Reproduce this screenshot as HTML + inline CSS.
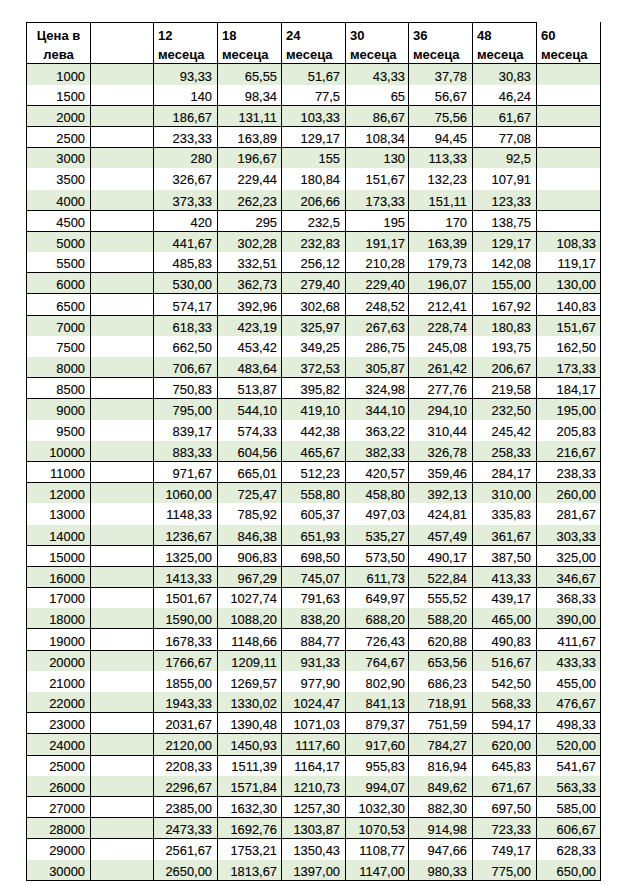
<!DOCTYPE html>
<html><head><meta charset="utf-8"><style>
html,body{margin:0;padding:0;background:#fff;width:635px;height:884px;overflow:hidden}
body{position:relative;font-family:"Liberation Sans",sans-serif;color:#000}
.g{position:absolute;background:#e2eeda}
.h{position:absolute;height:1px;background:#000}
.v{position:absolute;width:1px;background:#000}
.n{position:absolute;font-size:13.5px;line-height:20px;white-space:nowrap;text-align:right;transform:scaleX(0.955);transform-origin:100% 50%;-webkit-text-stroke:0.12px #000}
.b{position:absolute;font-size:13px;font-weight:bold;-webkit-text-stroke:0px #000;line-height:20px;white-space:nowrap}
</style></head><body>

<div class="g" style="left:27px;top:64px;width:573px;height:21px"></div>
<div class="g" style="left:27px;top:106px;width:573px;height:20px"></div>
<div class="g" style="left:27px;top:148px;width:573px;height:20px"></div>
<div class="g" style="left:27px;top:190px;width:573px;height:20px"></div>
<div class="g" style="left:27px;top:232px;width:573px;height:20px"></div>
<div class="g" style="left:27px;top:273px;width:573px;height:20px"></div>
<div class="g" style="left:27px;top:316px;width:573px;height:20px"></div>
<div class="g" style="left:27px;top:357px;width:573px;height:20px"></div>
<div class="g" style="left:27px;top:399px;width:573px;height:21px"></div>
<div class="g" style="left:27px;top:441px;width:573px;height:20px"></div>
<div class="g" style="left:27px;top:483px;width:573px;height:20px"></div>
<div class="g" style="left:27px;top:525px;width:573px;height:20px"></div>
<div class="g" style="left:27px;top:567px;width:573px;height:20px"></div>
<div class="g" style="left:27px;top:608px;width:573px;height:20px"></div>
<div class="g" style="left:27px;top:651px;width:573px;height:20px"></div>
<div class="g" style="left:27px;top:692px;width:573px;height:20px"></div>
<div class="g" style="left:27px;top:734px;width:573px;height:21px"></div>
<div class="g" style="left:27px;top:776px;width:573px;height:20px"></div>
<div class="g" style="left:27px;top:818px;width:573px;height:20px"></div>
<div class="g" style="left:27px;top:860px;width:573px;height:20px"></div>
<div class="h" style="left:26px;top:22px;width:511px"></div>
<div class="h" style="left:26px;top:63px;width:575px"></div>
<div class="h" style="left:26px;top:105px;width:575px"></div>
<div class="h" style="left:26px;top:126px;width:575px"></div>
<div class="h" style="left:26px;top:147px;width:575px"></div>
<div class="h" style="left:26px;top:210px;width:575px"></div>
<div class="h" style="left:26px;top:231px;width:575px"></div>
<div class="h" style="left:26px;top:272px;width:575px"></div>
<div class="h" style="left:26px;top:293px;width:575px"></div>
<div class="h" style="left:26px;top:315px;width:575px"></div>
<div class="h" style="left:26px;top:377px;width:575px"></div>
<div class="h" style="left:26px;top:398px;width:575px"></div>
<div class="h" style="left:26px;top:461px;width:575px"></div>
<div class="h" style="left:26px;top:482px;width:575px"></div>
<div class="h" style="left:26px;top:545px;width:575px"></div>
<div class="h" style="left:26px;top:566px;width:575px"></div>
<div class="h" style="left:26px;top:587px;width:575px"></div>
<div class="h" style="left:26px;top:628px;width:575px"></div>
<div class="h" style="left:26px;top:650px;width:575px"></div>
<div class="h" style="left:26px;top:712px;width:575px"></div>
<div class="h" style="left:26px;top:733px;width:575px"></div>
<div class="h" style="left:26px;top:755px;width:575px"></div>
<div class="h" style="left:26px;top:796px;width:575px"></div>
<div class="h" style="left:26px;top:817px;width:575px"></div>
<div class="h" style="left:26px;top:838px;width:575px"></div>
<div class="h" style="left:26px;top:880px;width:575px"></div>
<div class="v" style="left:26px;top:22px;height:859px"></div>
<div class="v" style="left:90px;top:22px;height:859px"></div>
<div class="v" style="left:153px;top:22px;height:859px"></div>
<div class="v" style="left:217px;top:22px;height:859px"></div>
<div class="v" style="left:281px;top:22px;height:859px"></div>
<div class="v" style="left:345px;top:22px;height:859px"></div>
<div class="v" style="left:408px;top:22px;height:859px"></div>
<div class="v" style="left:472px;top:22px;height:859px"></div>
<div class="v" style="left:536px;top:22px;height:859px"></div>
<div class="v" style="left:600px;top:22px;height:859px"></div>
<div class="b" style="left:27px;top:25.5px;width:63px;text-align:center">Цена в</div>
<div class="b" style="left:27px;top:44.5px;width:63px;text-align:center">лева</div>
<div class="b" style="left:158px;top:25.5px">12</div>
<div class="b" style="left:158px;top:44.5px">месеца</div>
<div class="b" style="left:222px;top:25.5px">18</div>
<div class="b" style="left:222px;top:44.5px">месеца</div>
<div class="b" style="left:286px;top:25.5px">24</div>
<div class="b" style="left:286px;top:44.5px">месеца</div>
<div class="b" style="left:350px;top:25.5px">30</div>
<div class="b" style="left:350px;top:44.5px">месеца</div>
<div class="b" style="left:413px;top:25.5px">36</div>
<div class="b" style="left:413px;top:44.5px">месеца</div>
<div class="b" style="left:477px;top:25.5px">48</div>
<div class="b" style="left:477px;top:44.5px">месеца</div>
<div class="b" style="left:541px;top:25.5px">60</div>
<div class="b" style="left:541px;top:44.5px">месеца</div>
<div class="n" style="left:5.400000000000006px;top:66.65px;width:80px">1000</div>
<div class="n" style="left:132.4px;top:66.65px;width:80px">93,33</div>
<div class="n" style="left:197.39999999999998px;top:66.65px;width:80px">65,55</div>
<div class="n" style="left:260.4px;top:66.65px;width:80px">51,67</div>
<div class="n" style="left:325.4px;top:66.65px;width:80px">43,33</div>
<div class="n" style="left:387.4px;top:66.65px;width:80px">37,78</div>
<div class="n" style="left:451.4px;top:66.65px;width:80px">30,83</div>
<div class="n" style="left:5.400000000000006px;top:86.60px;width:80px">1500</div>
<div class="n" style="left:132.4px;top:86.60px;width:80px">140</div>
<div class="n" style="left:197.39999999999998px;top:86.60px;width:80px">98,34</div>
<div class="n" style="left:260.4px;top:86.60px;width:80px">77,5</div>
<div class="n" style="left:325.4px;top:86.60px;width:80px">65</div>
<div class="n" style="left:387.4px;top:86.60px;width:80px">56,67</div>
<div class="n" style="left:451.4px;top:86.60px;width:80px">46,24</div>
<div class="n" style="left:5.400000000000006px;top:107.55px;width:80px">2000</div>
<div class="n" style="left:132.4px;top:107.55px;width:80px">186,67</div>
<div class="n" style="left:197.39999999999998px;top:107.55px;width:80px">131,11</div>
<div class="n" style="left:260.4px;top:107.55px;width:80px">103,33</div>
<div class="n" style="left:325.4px;top:107.55px;width:80px">86,67</div>
<div class="n" style="left:387.4px;top:107.55px;width:80px">75,56</div>
<div class="n" style="left:451.4px;top:107.55px;width:80px">61,67</div>
<div class="n" style="left:5.400000000000006px;top:128.50px;width:80px">2500</div>
<div class="n" style="left:132.4px;top:128.50px;width:80px">233,33</div>
<div class="n" style="left:197.39999999999998px;top:128.50px;width:80px">163,89</div>
<div class="n" style="left:260.4px;top:128.50px;width:80px">129,17</div>
<div class="n" style="left:325.4px;top:128.50px;width:80px">108,34</div>
<div class="n" style="left:387.4px;top:128.50px;width:80px">94,45</div>
<div class="n" style="left:451.4px;top:128.50px;width:80px">77,08</div>
<div class="n" style="left:5.400000000000006px;top:149.45px;width:80px">3000</div>
<div class="n" style="left:132.4px;top:149.45px;width:80px">280</div>
<div class="n" style="left:197.39999999999998px;top:149.45px;width:80px">196,67</div>
<div class="n" style="left:260.4px;top:149.45px;width:80px">155</div>
<div class="n" style="left:325.4px;top:149.45px;width:80px">130</div>
<div class="n" style="left:387.4px;top:149.45px;width:80px">113,33</div>
<div class="n" style="left:451.4px;top:149.45px;width:80px">92,5</div>
<div class="n" style="left:5.400000000000006px;top:170.40px;width:80px">3500</div>
<div class="n" style="left:132.4px;top:170.40px;width:80px">326,67</div>
<div class="n" style="left:197.39999999999998px;top:170.40px;width:80px">229,44</div>
<div class="n" style="left:260.4px;top:170.40px;width:80px">180,84</div>
<div class="n" style="left:325.4px;top:170.40px;width:80px">151,67</div>
<div class="n" style="left:387.4px;top:170.40px;width:80px">132,23</div>
<div class="n" style="left:451.4px;top:170.40px;width:80px">107,91</div>
<div class="n" style="left:5.400000000000006px;top:192.35px;width:80px">4000</div>
<div class="n" style="left:132.4px;top:192.35px;width:80px">373,33</div>
<div class="n" style="left:197.39999999999998px;top:192.35px;width:80px">262,23</div>
<div class="n" style="left:260.4px;top:192.35px;width:80px">206,66</div>
<div class="n" style="left:325.4px;top:192.35px;width:80px">173,33</div>
<div class="n" style="left:387.4px;top:192.35px;width:80px">151,11</div>
<div class="n" style="left:451.4px;top:192.35px;width:80px">123,33</div>
<div class="n" style="left:5.400000000000006px;top:213.30px;width:80px">4500</div>
<div class="n" style="left:132.4px;top:213.30px;width:80px">420</div>
<div class="n" style="left:197.39999999999998px;top:213.30px;width:80px">295</div>
<div class="n" style="left:260.4px;top:213.30px;width:80px">232,5</div>
<div class="n" style="left:325.4px;top:213.30px;width:80px">195</div>
<div class="n" style="left:387.4px;top:213.30px;width:80px">170</div>
<div class="n" style="left:451.4px;top:213.30px;width:80px">138,75</div>
<div class="n" style="left:5.400000000000006px;top:234.25px;width:80px">5000</div>
<div class="n" style="left:132.4px;top:234.25px;width:80px">441,67</div>
<div class="n" style="left:197.39999999999998px;top:234.25px;width:80px">302,28</div>
<div class="n" style="left:260.4px;top:234.25px;width:80px">232,83</div>
<div class="n" style="left:325.4px;top:234.25px;width:80px">191,17</div>
<div class="n" style="left:387.4px;top:234.25px;width:80px">163,39</div>
<div class="n" style="left:451.4px;top:234.25px;width:80px">129,17</div>
<div class="n" style="left:516.4px;top:234.25px;width:80px">108,33</div>
<div class="n" style="left:5.400000000000006px;top:254.20px;width:80px">5500</div>
<div class="n" style="left:132.4px;top:254.20px;width:80px">485,83</div>
<div class="n" style="left:197.39999999999998px;top:254.20px;width:80px">332,51</div>
<div class="n" style="left:260.4px;top:254.20px;width:80px">256,12</div>
<div class="n" style="left:325.4px;top:254.20px;width:80px">210,28</div>
<div class="n" style="left:387.4px;top:254.20px;width:80px">179,73</div>
<div class="n" style="left:451.4px;top:254.20px;width:80px">142,08</div>
<div class="n" style="left:516.4px;top:254.20px;width:80px">119,17</div>
<div class="n" style="left:5.400000000000006px;top:275.15px;width:80px">6000</div>
<div class="n" style="left:132.4px;top:275.15px;width:80px">530,00</div>
<div class="n" style="left:197.39999999999998px;top:275.15px;width:80px">362,73</div>
<div class="n" style="left:260.4px;top:275.15px;width:80px">279,40</div>
<div class="n" style="left:325.4px;top:275.15px;width:80px">229,40</div>
<div class="n" style="left:387.4px;top:275.15px;width:80px">196,07</div>
<div class="n" style="left:451.4px;top:275.15px;width:80px">155,00</div>
<div class="n" style="left:516.4px;top:275.15px;width:80px">130,00</div>
<div class="n" style="left:5.400000000000006px;top:297.10px;width:80px">6500</div>
<div class="n" style="left:132.4px;top:297.10px;width:80px">574,17</div>
<div class="n" style="left:197.39999999999998px;top:297.10px;width:80px">392,96</div>
<div class="n" style="left:260.4px;top:297.10px;width:80px">302,68</div>
<div class="n" style="left:325.4px;top:297.10px;width:80px">248,52</div>
<div class="n" style="left:387.4px;top:297.10px;width:80px">212,41</div>
<div class="n" style="left:451.4px;top:297.10px;width:80px">167,92</div>
<div class="n" style="left:516.4px;top:297.10px;width:80px">140,83</div>
<div class="n" style="left:5.400000000000006px;top:318.05px;width:80px">7000</div>
<div class="n" style="left:132.4px;top:318.05px;width:80px">618,33</div>
<div class="n" style="left:197.39999999999998px;top:318.05px;width:80px">423,19</div>
<div class="n" style="left:260.4px;top:318.05px;width:80px">325,97</div>
<div class="n" style="left:325.4px;top:318.05px;width:80px">267,63</div>
<div class="n" style="left:387.4px;top:318.05px;width:80px">228,74</div>
<div class="n" style="left:451.4px;top:318.05px;width:80px">180,83</div>
<div class="n" style="left:516.4px;top:318.05px;width:80px">151,67</div>
<div class="n" style="left:5.400000000000006px;top:338.00px;width:80px">7500</div>
<div class="n" style="left:132.4px;top:338.00px;width:80px">662,50</div>
<div class="n" style="left:197.39999999999998px;top:338.00px;width:80px">453,42</div>
<div class="n" style="left:260.4px;top:338.00px;width:80px">349,25</div>
<div class="n" style="left:325.4px;top:338.00px;width:80px">286,75</div>
<div class="n" style="left:387.4px;top:338.00px;width:80px">245,08</div>
<div class="n" style="left:451.4px;top:338.00px;width:80px">193,75</div>
<div class="n" style="left:516.4px;top:338.00px;width:80px">162,50</div>
<div class="n" style="left:5.400000000000006px;top:358.95px;width:80px">8000</div>
<div class="n" style="left:132.4px;top:358.95px;width:80px">706,67</div>
<div class="n" style="left:197.39999999999998px;top:358.95px;width:80px">483,64</div>
<div class="n" style="left:260.4px;top:358.95px;width:80px">372,53</div>
<div class="n" style="left:325.4px;top:358.95px;width:80px">305,87</div>
<div class="n" style="left:387.4px;top:358.95px;width:80px">261,42</div>
<div class="n" style="left:451.4px;top:358.95px;width:80px">206,67</div>
<div class="n" style="left:516.4px;top:358.95px;width:80px">173,33</div>
<div class="n" style="left:5.400000000000006px;top:379.90px;width:80px">8500</div>
<div class="n" style="left:132.4px;top:379.90px;width:80px">750,83</div>
<div class="n" style="left:197.39999999999998px;top:379.90px;width:80px">513,87</div>
<div class="n" style="left:260.4px;top:379.90px;width:80px">395,82</div>
<div class="n" style="left:325.4px;top:379.90px;width:80px">324,98</div>
<div class="n" style="left:387.4px;top:379.90px;width:80px">277,76</div>
<div class="n" style="left:451.4px;top:379.90px;width:80px">219,58</div>
<div class="n" style="left:516.4px;top:379.90px;width:80px">184,17</div>
<div class="n" style="left:5.400000000000006px;top:400.85px;width:80px">9000</div>
<div class="n" style="left:132.4px;top:400.85px;width:80px">795,00</div>
<div class="n" style="left:197.39999999999998px;top:400.85px;width:80px">544,10</div>
<div class="n" style="left:260.4px;top:400.85px;width:80px">419,10</div>
<div class="n" style="left:325.4px;top:400.85px;width:80px">344,10</div>
<div class="n" style="left:387.4px;top:400.85px;width:80px">294,10</div>
<div class="n" style="left:451.4px;top:400.85px;width:80px">232,50</div>
<div class="n" style="left:516.4px;top:400.85px;width:80px">195,00</div>
<div class="n" style="left:5.400000000000006px;top:421.80px;width:80px">9500</div>
<div class="n" style="left:132.4px;top:421.80px;width:80px">839,17</div>
<div class="n" style="left:197.39999999999998px;top:421.80px;width:80px">574,33</div>
<div class="n" style="left:260.4px;top:421.80px;width:80px">442,38</div>
<div class="n" style="left:325.4px;top:421.80px;width:80px">363,22</div>
<div class="n" style="left:387.4px;top:421.80px;width:80px">310,44</div>
<div class="n" style="left:451.4px;top:421.80px;width:80px">245,42</div>
<div class="n" style="left:516.4px;top:421.80px;width:80px">205,83</div>
<div class="n" style="left:5.400000000000006px;top:442.75px;width:80px">10000</div>
<div class="n" style="left:132.4px;top:442.75px;width:80px">883,33</div>
<div class="n" style="left:197.39999999999998px;top:442.75px;width:80px">604,56</div>
<div class="n" style="left:260.4px;top:442.75px;width:80px">465,67</div>
<div class="n" style="left:325.4px;top:442.75px;width:80px">382,33</div>
<div class="n" style="left:387.4px;top:442.75px;width:80px">326,78</div>
<div class="n" style="left:451.4px;top:442.75px;width:80px">258,33</div>
<div class="n" style="left:516.4px;top:442.75px;width:80px">216,67</div>
<div class="n" style="left:5.400000000000006px;top:463.70px;width:80px">11000</div>
<div class="n" style="left:132.4px;top:463.70px;width:80px">971,67</div>
<div class="n" style="left:197.39999999999998px;top:463.70px;width:80px">665,01</div>
<div class="n" style="left:260.4px;top:463.70px;width:80px">512,23</div>
<div class="n" style="left:325.4px;top:463.70px;width:80px">420,57</div>
<div class="n" style="left:387.4px;top:463.70px;width:80px">359,46</div>
<div class="n" style="left:451.4px;top:463.70px;width:80px">284,17</div>
<div class="n" style="left:516.4px;top:463.70px;width:80px">238,33</div>
<div class="n" style="left:5.400000000000006px;top:484.65px;width:80px">12000</div>
<div class="n" style="left:132.4px;top:484.65px;width:80px">1060,00</div>
<div class="n" style="left:197.39999999999998px;top:484.65px;width:80px">725,47</div>
<div class="n" style="left:260.4px;top:484.65px;width:80px">558,80</div>
<div class="n" style="left:325.4px;top:484.65px;width:80px">458,80</div>
<div class="n" style="left:387.4px;top:484.65px;width:80px">392,13</div>
<div class="n" style="left:451.4px;top:484.65px;width:80px">310,00</div>
<div class="n" style="left:516.4px;top:484.65px;width:80px">260,00</div>
<div class="n" style="left:5.400000000000006px;top:504.60px;width:80px">13000</div>
<div class="n" style="left:132.4px;top:504.60px;width:80px">1148,33</div>
<div class="n" style="left:197.39999999999998px;top:504.60px;width:80px">785,92</div>
<div class="n" style="left:260.4px;top:504.60px;width:80px">605,37</div>
<div class="n" style="left:325.4px;top:504.60px;width:80px">497,03</div>
<div class="n" style="left:387.4px;top:504.60px;width:80px">424,81</div>
<div class="n" style="left:451.4px;top:504.60px;width:80px">335,83</div>
<div class="n" style="left:516.4px;top:504.60px;width:80px">281,67</div>
<div class="n" style="left:5.400000000000006px;top:526.55px;width:80px">14000</div>
<div class="n" style="left:132.4px;top:526.55px;width:80px">1236,67</div>
<div class="n" style="left:197.39999999999998px;top:526.55px;width:80px">846,38</div>
<div class="n" style="left:260.4px;top:526.55px;width:80px">651,93</div>
<div class="n" style="left:325.4px;top:526.55px;width:80px">535,27</div>
<div class="n" style="left:387.4px;top:526.55px;width:80px">457,49</div>
<div class="n" style="left:451.4px;top:526.55px;width:80px">361,67</div>
<div class="n" style="left:516.4px;top:526.55px;width:80px">303,33</div>
<div class="n" style="left:5.400000000000006px;top:547.50px;width:80px">15000</div>
<div class="n" style="left:132.4px;top:547.50px;width:80px">1325,00</div>
<div class="n" style="left:197.39999999999998px;top:547.50px;width:80px">906,83</div>
<div class="n" style="left:260.4px;top:547.50px;width:80px">698,50</div>
<div class="n" style="left:325.4px;top:547.50px;width:80px">573,50</div>
<div class="n" style="left:387.4px;top:547.50px;width:80px">490,17</div>
<div class="n" style="left:451.4px;top:547.50px;width:80px">387,50</div>
<div class="n" style="left:516.4px;top:547.50px;width:80px">325,00</div>
<div class="n" style="left:5.400000000000006px;top:569.45px;width:80px">16000</div>
<div class="n" style="left:132.4px;top:569.45px;width:80px">1413,33</div>
<div class="n" style="left:197.39999999999998px;top:569.45px;width:80px">967,29</div>
<div class="n" style="left:260.4px;top:569.45px;width:80px">745,07</div>
<div class="n" style="left:325.4px;top:569.45px;width:80px">611,73</div>
<div class="n" style="left:387.4px;top:569.45px;width:80px">522,84</div>
<div class="n" style="left:451.4px;top:569.45px;width:80px">413,33</div>
<div class="n" style="left:516.4px;top:569.45px;width:80px">346,67</div>
<div class="n" style="left:5.400000000000006px;top:589.40px;width:80px">17000</div>
<div class="n" style="left:132.4px;top:589.40px;width:80px">1501,67</div>
<div class="n" style="left:197.39999999999998px;top:589.40px;width:80px">1027,74</div>
<div class="n" style="left:260.4px;top:589.40px;width:80px">791,63</div>
<div class="n" style="left:325.4px;top:589.40px;width:80px">649,97</div>
<div class="n" style="left:387.4px;top:589.40px;width:80px">555,52</div>
<div class="n" style="left:451.4px;top:589.40px;width:80px">439,17</div>
<div class="n" style="left:516.4px;top:589.40px;width:80px">368,33</div>
<div class="n" style="left:5.400000000000006px;top:610.35px;width:80px">18000</div>
<div class="n" style="left:132.4px;top:610.35px;width:80px">1590,00</div>
<div class="n" style="left:197.39999999999998px;top:610.35px;width:80px">1088,20</div>
<div class="n" style="left:260.4px;top:610.35px;width:80px">838,20</div>
<div class="n" style="left:325.4px;top:610.35px;width:80px">688,20</div>
<div class="n" style="left:387.4px;top:610.35px;width:80px">588,20</div>
<div class="n" style="left:451.4px;top:610.35px;width:80px">465,00</div>
<div class="n" style="left:516.4px;top:610.35px;width:80px">390,00</div>
<div class="n" style="left:5.400000000000006px;top:632.30px;width:80px">19000</div>
<div class="n" style="left:132.4px;top:632.30px;width:80px">1678,33</div>
<div class="n" style="left:197.39999999999998px;top:632.30px;width:80px">1148,66</div>
<div class="n" style="left:260.4px;top:632.30px;width:80px">884,77</div>
<div class="n" style="left:325.4px;top:632.30px;width:80px">726,43</div>
<div class="n" style="left:387.4px;top:632.30px;width:80px">620,88</div>
<div class="n" style="left:451.4px;top:632.30px;width:80px">490,83</div>
<div class="n" style="left:516.4px;top:632.30px;width:80px">411,67</div>
<div class="n" style="left:5.400000000000006px;top:653.25px;width:80px">20000</div>
<div class="n" style="left:132.4px;top:653.25px;width:80px">1766,67</div>
<div class="n" style="left:197.39999999999998px;top:653.25px;width:80px">1209,11</div>
<div class="n" style="left:260.4px;top:653.25px;width:80px">931,33</div>
<div class="n" style="left:325.4px;top:653.25px;width:80px">764,67</div>
<div class="n" style="left:387.4px;top:653.25px;width:80px">653,56</div>
<div class="n" style="left:451.4px;top:653.25px;width:80px">516,67</div>
<div class="n" style="left:516.4px;top:653.25px;width:80px">433,33</div>
<div class="n" style="left:5.400000000000006px;top:674.20px;width:80px">21000</div>
<div class="n" style="left:132.4px;top:674.20px;width:80px">1855,00</div>
<div class="n" style="left:197.39999999999998px;top:674.20px;width:80px">1269,57</div>
<div class="n" style="left:260.4px;top:674.20px;width:80px">977,90</div>
<div class="n" style="left:325.4px;top:674.20px;width:80px">802,90</div>
<div class="n" style="left:387.4px;top:674.20px;width:80px">686,23</div>
<div class="n" style="left:451.4px;top:674.20px;width:80px">542,50</div>
<div class="n" style="left:516.4px;top:674.20px;width:80px">455,00</div>
<div class="n" style="left:5.400000000000006px;top:694.15px;width:80px">22000</div>
<div class="n" style="left:132.4px;top:694.15px;width:80px">1943,33</div>
<div class="n" style="left:197.39999999999998px;top:694.15px;width:80px">1330,02</div>
<div class="n" style="left:260.4px;top:694.15px;width:80px">1024,47</div>
<div class="n" style="left:325.4px;top:694.15px;width:80px">841,13</div>
<div class="n" style="left:387.4px;top:694.15px;width:80px">718,91</div>
<div class="n" style="left:451.4px;top:694.15px;width:80px">568,33</div>
<div class="n" style="left:516.4px;top:694.15px;width:80px">476,67</div>
<div class="n" style="left:5.400000000000006px;top:715.10px;width:80px">23000</div>
<div class="n" style="left:132.4px;top:715.10px;width:80px">2031,67</div>
<div class="n" style="left:197.39999999999998px;top:715.10px;width:80px">1390,48</div>
<div class="n" style="left:260.4px;top:715.10px;width:80px">1071,03</div>
<div class="n" style="left:325.4px;top:715.10px;width:80px">879,37</div>
<div class="n" style="left:387.4px;top:715.10px;width:80px">751,59</div>
<div class="n" style="left:451.4px;top:715.10px;width:80px">594,17</div>
<div class="n" style="left:516.4px;top:715.10px;width:80px">498,33</div>
<div class="n" style="left:5.400000000000006px;top:736.05px;width:80px">24000</div>
<div class="n" style="left:132.4px;top:736.05px;width:80px">2120,00</div>
<div class="n" style="left:197.39999999999998px;top:736.05px;width:80px">1450,93</div>
<div class="n" style="left:260.4px;top:736.05px;width:80px">1117,60</div>
<div class="n" style="left:325.4px;top:736.05px;width:80px">917,60</div>
<div class="n" style="left:387.4px;top:736.05px;width:80px">784,27</div>
<div class="n" style="left:451.4px;top:736.05px;width:80px">620,00</div>
<div class="n" style="left:516.4px;top:736.05px;width:80px">520,00</div>
<div class="n" style="left:5.400000000000006px;top:757.00px;width:80px">25000</div>
<div class="n" style="left:132.4px;top:757.00px;width:80px">2208,33</div>
<div class="n" style="left:197.39999999999998px;top:757.00px;width:80px">1511,39</div>
<div class="n" style="left:260.4px;top:757.00px;width:80px">1164,17</div>
<div class="n" style="left:325.4px;top:757.00px;width:80px">955,83</div>
<div class="n" style="left:387.4px;top:757.00px;width:80px">816,94</div>
<div class="n" style="left:451.4px;top:757.00px;width:80px">645,83</div>
<div class="n" style="left:516.4px;top:757.00px;width:80px">541,67</div>
<div class="n" style="left:5.400000000000006px;top:777.95px;width:80px">26000</div>
<div class="n" style="left:132.4px;top:777.95px;width:80px">2296,67</div>
<div class="n" style="left:197.39999999999998px;top:777.95px;width:80px">1571,84</div>
<div class="n" style="left:260.4px;top:777.95px;width:80px">1210,73</div>
<div class="n" style="left:325.4px;top:777.95px;width:80px">994,07</div>
<div class="n" style="left:387.4px;top:777.95px;width:80px">849,62</div>
<div class="n" style="left:451.4px;top:777.95px;width:80px">671,67</div>
<div class="n" style="left:516.4px;top:777.95px;width:80px">563,33</div>
<div class="n" style="left:5.400000000000006px;top:798.90px;width:80px">27000</div>
<div class="n" style="left:132.4px;top:798.90px;width:80px">2385,00</div>
<div class="n" style="left:197.39999999999998px;top:798.90px;width:80px">1632,30</div>
<div class="n" style="left:260.4px;top:798.90px;width:80px">1257,30</div>
<div class="n" style="left:325.4px;top:798.90px;width:80px">1032,30</div>
<div class="n" style="left:387.4px;top:798.90px;width:80px">882,30</div>
<div class="n" style="left:451.4px;top:798.90px;width:80px">697,50</div>
<div class="n" style="left:516.4px;top:798.90px;width:80px">585,00</div>
<div class="n" style="left:5.400000000000006px;top:819.85px;width:80px">28000</div>
<div class="n" style="left:132.4px;top:819.85px;width:80px">2473,33</div>
<div class="n" style="left:197.39999999999998px;top:819.85px;width:80px">1692,76</div>
<div class="n" style="left:260.4px;top:819.85px;width:80px">1303,87</div>
<div class="n" style="left:325.4px;top:819.85px;width:80px">1070,53</div>
<div class="n" style="left:387.4px;top:819.85px;width:80px">914,98</div>
<div class="n" style="left:451.4px;top:819.85px;width:80px">723,33</div>
<div class="n" style="left:516.4px;top:819.85px;width:80px">606,67</div>
<div class="n" style="left:5.400000000000006px;top:840.80px;width:80px">29000</div>
<div class="n" style="left:132.4px;top:840.80px;width:80px">2561,67</div>
<div class="n" style="left:197.39999999999998px;top:840.80px;width:80px">1753,21</div>
<div class="n" style="left:260.4px;top:840.80px;width:80px">1350,43</div>
<div class="n" style="left:325.4px;top:840.80px;width:80px">1108,77</div>
<div class="n" style="left:387.4px;top:840.80px;width:80px">947,66</div>
<div class="n" style="left:451.4px;top:840.80px;width:80px">749,17</div>
<div class="n" style="left:516.4px;top:840.80px;width:80px">628,33</div>
<div class="n" style="left:5.400000000000006px;top:861.75px;width:80px">30000</div>
<div class="n" style="left:132.4px;top:861.75px;width:80px">2650,00</div>
<div class="n" style="left:197.39999999999998px;top:861.75px;width:80px">1813,67</div>
<div class="n" style="left:260.4px;top:861.75px;width:80px">1397,00</div>
<div class="n" style="left:325.4px;top:861.75px;width:80px">1147,00</div>
<div class="n" style="left:387.4px;top:861.75px;width:80px">980,33</div>
<div class="n" style="left:451.4px;top:861.75px;width:80px">775,00</div>
<div class="n" style="left:516.4px;top:861.75px;width:80px">650,00</div>
</body></html>
